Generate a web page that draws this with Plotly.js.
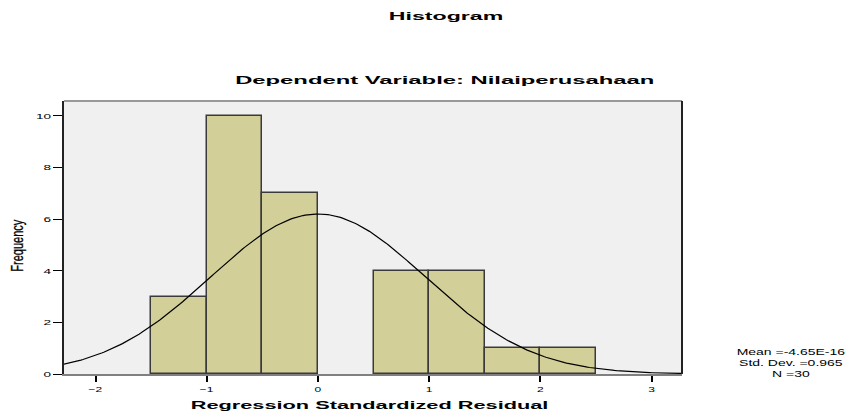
<!DOCTYPE html>
<html><head><meta charset="utf-8">
<script src="https://cdn.plot.ly/plotly-3.0.1.min.js"></script>
<style>body{margin:0;background:#fff}#chart{width:862px;height:417px}</style>
</head><body><div id="chart"></div>
<script>
// Data
var binCenters = [-1.25, -0.75, -0.25, 0.25, 0.75, 1.25, 1.75, 2.25];
var frequencies = [3, 10, 7, 0, 4, 4, 1, 1];
var binWidth = 0.5;
var statMean = -4.65e-16;
var statSD = 0.965;
var statN = 30;
var xTicks = [-2, -1, 0, 1, 2, 3];
var yTicks = [0, 2, 4, 6, 8, 10];
var chartTitle = 'Histogram';
var chartSubtitle = 'Dependent Variable: Nilaiperusahaan';
var xTitle = 'Regression Standardized Residual';
var yTitle = 'Frequency';

// Fitted normal curve from the stated mean / std. dev. / N
var curveX = [], curveY = [];
for (var i = 0; i <= 300; i++) {
  var x = -2.3 + i * (5.6 / 300);
  var z = (x - statMean) / statSD;
  curveX.push(x);
  curveY.push(statN * binWidth * Math.exp(-0.5 * z * z) / (statSD * Math.sqrt(2 * Math.PI)));
}

var font = 'Liberation Sans, Arial, sans-serif';
var traces = [
  {type: 'bar', x: binCenters, y: frequencies, width: binWidth,
   marker: {color: '#d3cf98', line: {color: '#3a3a3a', width: frequencies.map(function(f){return f > 0 ? 1.5 : 0;})}},
   hoverinfo: 'x+y'},
  {type: 'scatter', mode: 'lines', x: curveX, y: curveY,
   line: {color: '#000000', width: 1.2}, hoverinfo: 'skip'}
];

var statText = 'Mean =' + statMean.toExponential(2).toUpperCase() +
  '<br>Std. Dev. =' + statSD + '<br>N =' + statN;

var layout = {
  width: 862, height: 417,
  margin: {l: 64, r: 180, t: 101, b: 43},
  paper_bgcolor: '#ffffff', plot_bgcolor: '#f0f0f0',
  showlegend: false, bargap: 0,
  font: {family: font, color: '#000'},
  xaxis: {range: [-2.284, 3.273], tickvals: xTicks, ticks: 'outside', ticklen: 6,
          tickwidth: 2, tickcolor: '#000', showgrid: false, zeroline: false,
          showline: true, linecolor: '#808080', linewidth: 2,
          tickfont: {size: 8, family: font}},
  yaxis: {range: [0, 10.58], tickvals: yTicks, ticks: 'outside', ticklen: 9,
          tickwidth: 1, tickcolor: '#000', showgrid: false, zeroline: false,
          showline: true, linecolor: '#222', linewidth: 2,
          tickfont: {size: 8, family: font}},
  shapes: [
    {type: 'line', xref: 'paper', yref: 'paper', x0: 0, x1: 1, y0: 1, y1: 1, line: {color: '#999', width: 2}},
    {type: 'line', xref: 'paper', yref: 'paper', x0: 1, x1: 1, y0: 0, y1: 1, line: {color: '#222', width: 2}}
  ],
  annotations: [
    {name: 'title', text: '<b>' + chartTitle + '</b>', xref: 'paper', yref: 'paper', x: 0.6197, y: 1.313,
     xanchor: 'center', yanchor: 'middle', showarrow: false, font: {size: 11, family: font}},
    {name: 'subtitle', text: '<b>' + chartSubtitle + '</b>', xref: 'paper', yref: 'paper', x: 0.6165, y: 1.077,
     xanchor: 'center', yanchor: 'middle', showarrow: false, font: {size: 11, family: font}},
    {name: 'xtitle', text: '<b>' + xTitle + '</b>', xref: 'paper', yref: 'paper', x: 0.495, y: -0.1136,
     xanchor: 'center', yanchor: 'middle', showarrow: false, font: {size: 11.5, family: font}},
    {name: 'ytitle', text: yTitle, xref: 'paper', yref: 'paper', x: -0.0752, y: 0.469, textangle: -90,
     xanchor: 'center', yanchor: 'middle', showarrow: false, font: {size: 16, family: font}},
    {name: 'stats', text: statText, xref: 'paper', yref: 'paper', x: 1.1764, y: 0.0385,
     xanchor: 'center', yanchor: 'middle', showarrow: false, align: 'center', font: {size: 8.5, family: font}}
  ]
};

// Horizontal stretch of glyphs (the reference text is widened)
function stretch(el, s, pivotMode) {
  var bb = el.getBBox();
  var anchor = el.getAttribute('text-anchor');
  var px;
  if (pivotMode === 'center') px = bb.x + bb.width / 2;
  else if (anchor === 'end') px = bb.x + bb.width;
  else if (anchor === 'start') px = bb.x;
  else px = bb.x + bb.width / 2;
  var py = bb.y + bb.height / 2;
  var old = el.getAttribute('transform') || '';
  el.setAttribute('transform', old + ' translate(' + px + ',' + py + ') scale(' + s + ',1) translate(' + (-px) + ',' + (-py) + ')');
}
function stretchTo(el, target) {
  var w = el.getBBox().width;
  if (w > 0) stretch(el, target / w, 'center');
}

Plotly.newPlot('chart', traces, layout, {displayModeBar: false}).then(function (gd) {
  gd.querySelectorAll('.xtick text').forEach(function (t) { stretch(t, 1.5); });
  gd.querySelectorAll('.ytick text').forEach(function (t) { stretch(t, 1.7); });
  var ann = gd.querySelectorAll('.annotation-text');
  var targets = [115, 420, 358, 52, 109];
  ann.forEach(function (t, i) { if (targets[i]) stretchTo(t, targets[i]); });
  var yt = ann[3];
  if (yt) { yt.style.stroke = '#000'; yt.style.strokeWidth = '0.3px'; }
});
</script></body></html>
